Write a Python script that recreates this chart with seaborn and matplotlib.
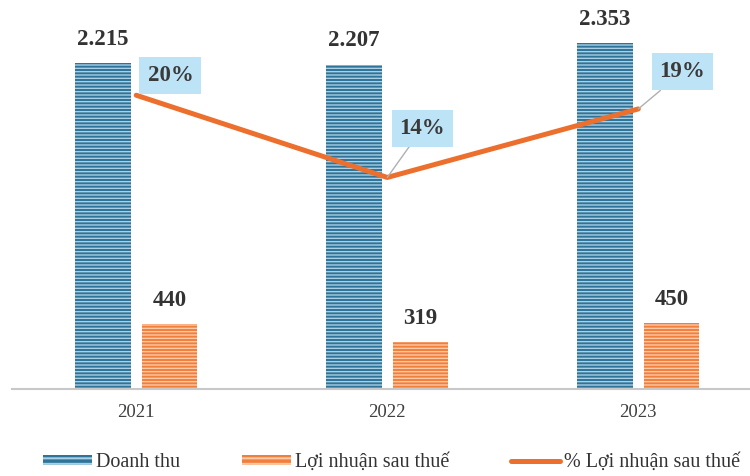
import numpy as np
import matplotlib.pyplot as plt
import pandas as pd
import seaborn as sns
from matplotlib.patches import Patch
from matplotlib.lines import Line2D

years = ['2021', '2022', '2023']
doanh_thu = [2215, 2207, 2353]
loi_nhuan = [440, 319, 450]
pct_loi_nhuan = [20, 14, 19]
val_labels_dt = ['2.215', '2.207', '2.353']
val_labels_ln = ['440', '319', '450']

sns.set_theme(style='white')
plt.rcParams['font.family'] = ['Liberation Serif', 'DejaVu Serif']

df = pd.DataFrame({
    'year': years * 2,
    'value': doanh_thu + loi_nhuan,
    'series': ['Doanh thu'] * 3 + ['Lợi nhuận sau thuế'] * 3,
})

blue = '#2f7398'
blue_h = '#a9d0e4'
orange = '#f07f3c'
orange_h = '#fcc9a6'
line_c = '#ec6f2d'

fig = plt.figure(figsize=(7.5, 4.76), dpi=100)
ax = fig.add_axes([0.016, 0.183, 0.984, 0.817])

sns.barplot(data=df, x='year', y='value', hue='series', ax=ax,
            palette=[blue, orange], width=0.532, gap=0.17, legend=False)

plt.rcParams['hatch.linewidth'] = 1.5
for i, p in enumerate(ax.patches):
    if i < 3:
        p.set_facecolor(blue)
        p.set_edgecolor(blue_h)
    else:
        p.set_facecolor(orange)
        p.set_edgecolor(orange_h)
    p.set_hatch('-----')
    p.set_linewidth(0)

ax.set_ylim(0, 2647)
ax.set_xlim(-0.495, 2.445)
ax.set_xlabel('')
ax.set_ylabel('')
ax.set_yticks([])
for s in ['top', 'right', 'left']:
    ax.spines[s].set_visible(False)
ax.spines['bottom'].set_color('#c8c8c8')
ax.spines['bottom'].set_linewidth(1.5)
ax.tick_params(axis='x', length=0, pad=11, labelsize=13.5, labelcolor='#404040')

off = 0.133
for i in range(3):
    ax.text(i - off, doanh_thu[i] + 90, val_labels_dt[i], ha='center', va='bottom',
            fontsize=16.5, fontweight='bold', color='#333333')
    ax.text(i + off, loi_nhuan[i] + 90, val_labels_ln[i], ha='center', va='bottom',
            fontsize=16.5, fontweight='bold', color='#333333')

ax2 = ax.twinx()
sns.lineplot(x=[0, 1, 2], y=pct_loi_nhuan, ax=ax2, color=line_c, linewidth=3.6,
             solid_capstyle='round')
ax2.set_ylim(-1.43, 26.95)
ax2.set_yticks([])
for s in ax2.spines.values():
    s.set_visible(False)

box = dict(boxstyle='square,pad=0.35', facecolor='#bde4f6', edgecolor='none')
pct_offsets = [(0.136, 1.46), (0.14, 3.6), (0.176, 2.7)]
for i, v in enumerate(pct_loi_nhuan):
    dx, dy = pct_offsets[i]
    ax2.annotate(f'{v}%', xy=(i, v), xytext=(i + dx, v + dy), ha='center', va='center',
                 fontsize=16.5, fontweight='bold', color='#3a3a3a', bbox=box,
                 arrowprops=dict(arrowstyle='-', color='#b0b0b0', lw=1,
                                 shrinkA=0, shrinkB=0) if i > 0 else None)

handles = [
    Patch(facecolor=blue, edgecolor=blue_h, hatch='---', linewidth=0, label='Doanh thu'),
    Patch(facecolor=orange, edgecolor=orange_h, hatch='---', linewidth=0, label='Lợi nhuận sau thuế'),
    Line2D([0], [0], color=line_c, linewidth=3.6, label='% Lợi nhuận sau thuế'),
]
fig.legend(handles=handles, loc='lower center', bbox_to_anchor=(0.522, -0.03), ncol=3,
           frameon=False, fontsize=14.5, handlelength=2.4, handleheight=0.45,
           columnspacing=3.1, handletextpad=0.2, labelcolor='#333333')

plt.savefig('out.png', dpi=100)
